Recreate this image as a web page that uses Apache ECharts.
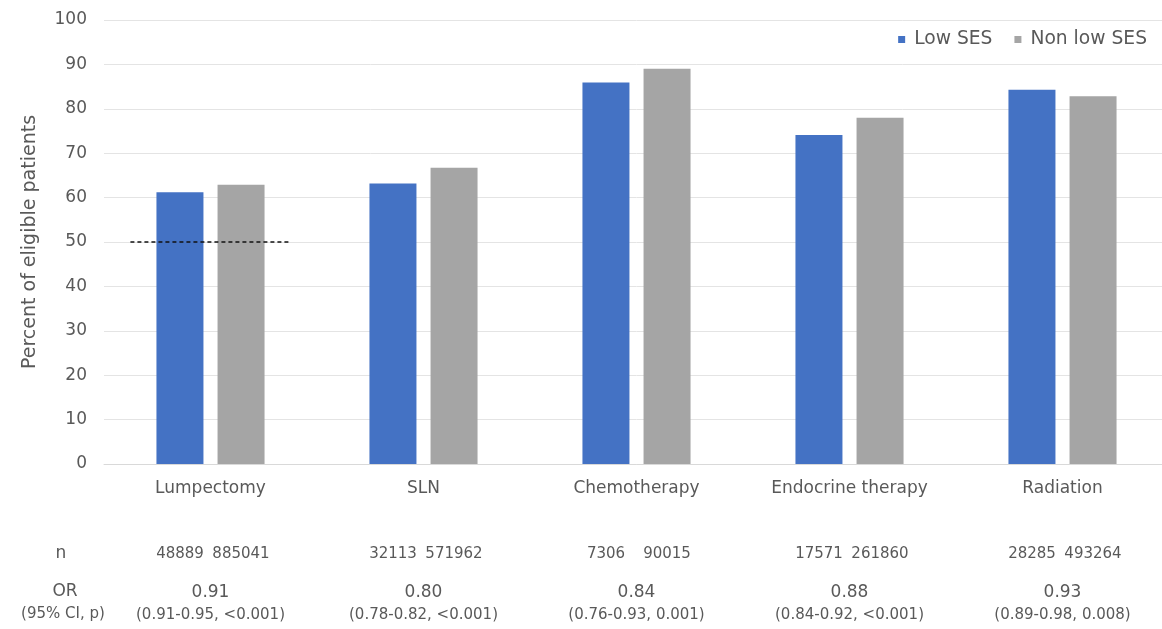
<!DOCTYPE html>
<html>
<head>
<meta charset="utf-8">
<script src="https://cdn.jsdelivr.net/npm/echarts@6/dist/echarts.min.js"></script>
<style>
html,body{margin:0;padding:0;background:#fff;overflow:hidden;width:1162px;height:629px;}
#chart{width:1170px;height:629px;}
</style>
</head>
<body>
<div id="chart"></div>
<script>
var categories = ['Lumpectomy', 'SLN', 'Chemotherapy', 'Endocrine therapy', 'Radiation'];
var lowSES = [61.2, 63.2, 85.9, 74.1, 84.3];
var nonLowSES = [62.9, 66.7, 89.0, 78.0, 82.8];
var nLow = ['48889', '32113', '7306', '17571', '28285'];
var nNonLow = ['885041', '571962', '90015', '261860', '493264'];
var orValues = ['0.91', '0.80', '0.84', '0.88', '0.93'];
var orCI = ['(0.91-0.95, <0.001)', '(0.78-0.82, <0.001)', '(0.76-0.93, 0.001)', '(0.84-0.92, <0.001)', '(0.89-0.98, 0.008)'];
var yTicks = [0, 10, 20, 30, 40, 50, 60, 70, 80, 90, 100];
var refLineX = [-0.376, 0.366];
var refLineY = 50;

var FONT = '"DejaVu Sans", sans-serif';
var TXT = '#595959';

var chart = echarts.init(document.getElementById('chart'));
var option = {
  animation: false,
  backgroundColor: '#ffffff',
  textStyle: { fontFamily: FONT },
  grid: { left: 104, top: 20, right: 1, height: 444, containLabel: false },
  legend: {
    right: 18, top: 25,
    itemWidth: 7, itemHeight: 7, itemGap: 22,
    icon: 'rect',
    textStyle: { fontFamily: FONT, fontSize: 18.7, color: TXT, padding: [0, 0, 0, 4] },
    data: ['Low SES', 'Non low SES']
  },
  xAxis: [
    {
      type: 'category', data: categories, position: 'bottom',
      axisLine: { show: true, lineStyle: { color: '#D9D9D9', width: 1 } },
      axisTick: { show: false },
      axisLabel: { margin: 16, fontSize: 17, color: TXT, fontFamily: FONT, interval: 0 }
    },
    {
      type: 'category', data: categories, position: 'bottom', offset: 0,
      axisLine: { show: false }, axisTick: { show: false },
      axisLabel: {
        margin: 83, interval: 0,
        formatter: function (v, i) { return '{a|' + nLow[i] + '}{b|' + nNonLow[i] + '}'; },
        rich: {
          a: { width: 61, align: 'center', fontSize: 15, color: TXT, fontFamily: FONT },
          b: { width: 61, align: 'center', fontSize: 15, color: TXT, fontFamily: FONT }
        }
      }
    },
    {
      type: 'category', data: categories, position: 'bottom', offset: 0,
      axisLine: { show: false }, axisTick: { show: false },
      axisLabel: {
        margin: 118, interval: 0,
        formatter: function (v, i) { return '{o|' + orValues[i] + '}\n{c|' + orCI[i] + '}'; },
        rich: {
          o: { fontSize: 17, lineHeight: 22, color: TXT, fontFamily: FONT },
          c: { fontSize: 15, lineHeight: 22, color: TXT, fontFamily: FONT }
        }
      }
    },
    {
      type: 'value', min: -0.5, max: 4.5, show: false
    }
  ],
  yAxis: {
    type: 'value', min: 0, max: 100, interval: 10,
    name: 'Percent of eligible patients',
    nameLocation: 'middle', nameGap: 64, nameRotate: 90,
    nameTextStyle: { fontSize: 19, color: TXT, fontFamily: FONT },
    axisLine: { show: false }, axisTick: { show: false },
    axisLabel: { margin: 17, fontSize: 17, color: TXT, fontFamily: FONT,
      formatter: function (v) { return yTicks.indexOf(v) >= 0 ? String(v) : ''; } },
    splitLine: { lineStyle: { color: '#E4E4E4', width: 1 } }
  },
  series: [
    {
      name: 'Low SES', type: 'bar', xAxisIndex: 0, data: lowSES,
      barWidth: 47, barGap: '30%',
      itemStyle: { color: '#4472C4' }
    },
    {
      name: 'Non low SES', type: 'bar', xAxisIndex: 0, data: nonLowSES,
      barWidth: 47, barGap: '30%',
      itemStyle: { color: '#A5A5A5' }
    },
    {
      name: 'ref', type: 'line', xAxisIndex: 3,
      data: [[refLineX[0], refLineY], [refLineX[1], refLineY]],
      symbol: 'none', silent: true, z: 5,
      lineStyle: { color: '#111111', width: 1.5, type: [4, 3] }
    }
  ],
  graphic: [
    { type: 'text', x: 61, y: 554, style: { text: 'n', fontSize: 17, fill: TXT, fontFamily: FONT, align: 'center', verticalAlign: 'middle' } },
    { type: 'text', x: 65, y: 592, style: { text: 'OR', fontSize: 17, fill: TXT, fontFamily: FONT, align: 'center', verticalAlign: 'middle' } },
    { type: 'text', x: 63, y: 614, style: { text: '(95% CI, p)', fontSize: 15, fill: TXT, fontFamily: FONT, align: 'center', verticalAlign: 'middle' } }
  ]
};
chart.setOption(option);
</script>
</body>
</html>
